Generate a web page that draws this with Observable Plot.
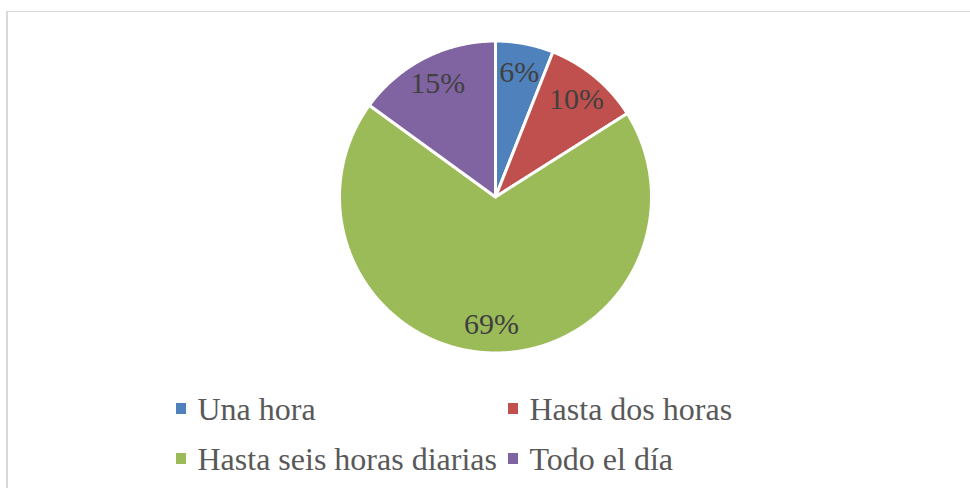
<!DOCTYPE html>
<html><head><meta charset="utf-8">
<script src="https://cdn.jsdelivr.net/npm/d3@7"></script>
<script src="https://cdn.jsdelivr.net/npm/@observablehq/plot@0.6"></script>
<style>
body{margin:0;background:#fff;}
#wrap{position:relative;width:970px;height:488px;overflow:hidden;font-family:"Liberation Serif","Times New Roman",serif;}
#frame{position:absolute;left:6px;top:11px;width:1200px;height:1200px;border-left:2px solid #d9d9d9;border-top:1px solid #d9d9d9;}
#chart{position:absolute;left:0;top:0;}
.sw{position:absolute;width:10px;height:11px;}
.lt{position:absolute;font-size:32px;line-height:32px;color:#595959;white-space:nowrap;}
</style></head>
<body>
<div id="wrap"><div id="frame"></div><div id="chart"></div></div>
<script>
const categories = ["Una hora","Hasta dos horas","Hasta seis horas diarias","Todo el día"];
const values = [6, 10, 69, 15];
const labels = ["6%","10%","69%","15%"];
const colors = ["#4F81BD","#C0504D","#9BBB59","#8064A2"];

const W = 970, H = 488, cx = 495, cy = 196.5, R = 156;
const arcs = d3.pie().sort(null).value(d => d)(values);
const pts = [];
arcs.forEach((a, i) => {
  const cat = categories[i];
  pts.push({cat, x: 0, y: 0});
  const n = Math.max(2, Math.ceil((a.endAngle - a.startAngle) / 0.005));
  for (let k = 0; k <= n; k++) {
    const t = a.startAngle + (a.endAngle - a.startAngle) * k / n;
    pts.push({cat, x: Math.sin(t), y: Math.cos(t)});
  }
  pts.push({cat, x: 0, y: 0});
});
const lab = arcs.map((a, i) => {
  const m = (a.startAngle + a.endAngle) / 2;
  return {x: Math.sin(m) * 0.815, y: Math.cos(m) * 0.815, text: labels[i]};
});

const plot = Plot.plot({
  width: W, height: H,
  marginTop: 0, marginRight: 0, marginBottom: 0, marginLeft: 0,
  x: {domain: [-cx / R, (W - cx) / R], range: [0, W], axis: null},
  y: {domain: [-(H - cy) / R, cy / R], range: [H, 0], axis: null},
  color: {domain: categories, range: colors},
  style: {background: "transparent", overflow: "visible"},
  marks: [
    Plot.line(pts, {x: "x", y: "y", z: "cat", fill: "cat", stroke: "white", strokeWidth: 3, strokeLinejoin: "round"}),
    Plot.text(lab, {x: "x", y: "y", text: "text", fontSize: 30, fontFamily: "Liberation Serif", fill: "#404040"})
  ]
});
document.getElementById("chart").appendChild(plot);

const legPos = [[176, 392.7], [508, 392.7], [176, 442.7], [508, 442.7]];
const wrap = document.getElementById("wrap");
categories.forEach((c, i) => {
  const [lx, ty] = legPos[i];
  const sw = document.createElement("div");
  sw.className = "sw"; sw.style.left = lx + "px"; sw.style.top = (ty + 10.3) + "px"; sw.style.background = colors[i];
  wrap.appendChild(sw);
  const t = document.createElement("div");
  t.className = "lt"; t.style.left = (lx + 21.5) + "px"; t.style.top = ty + "px"; t.textContent = c;
  wrap.appendChild(t);
});
</script>
</body></html>
